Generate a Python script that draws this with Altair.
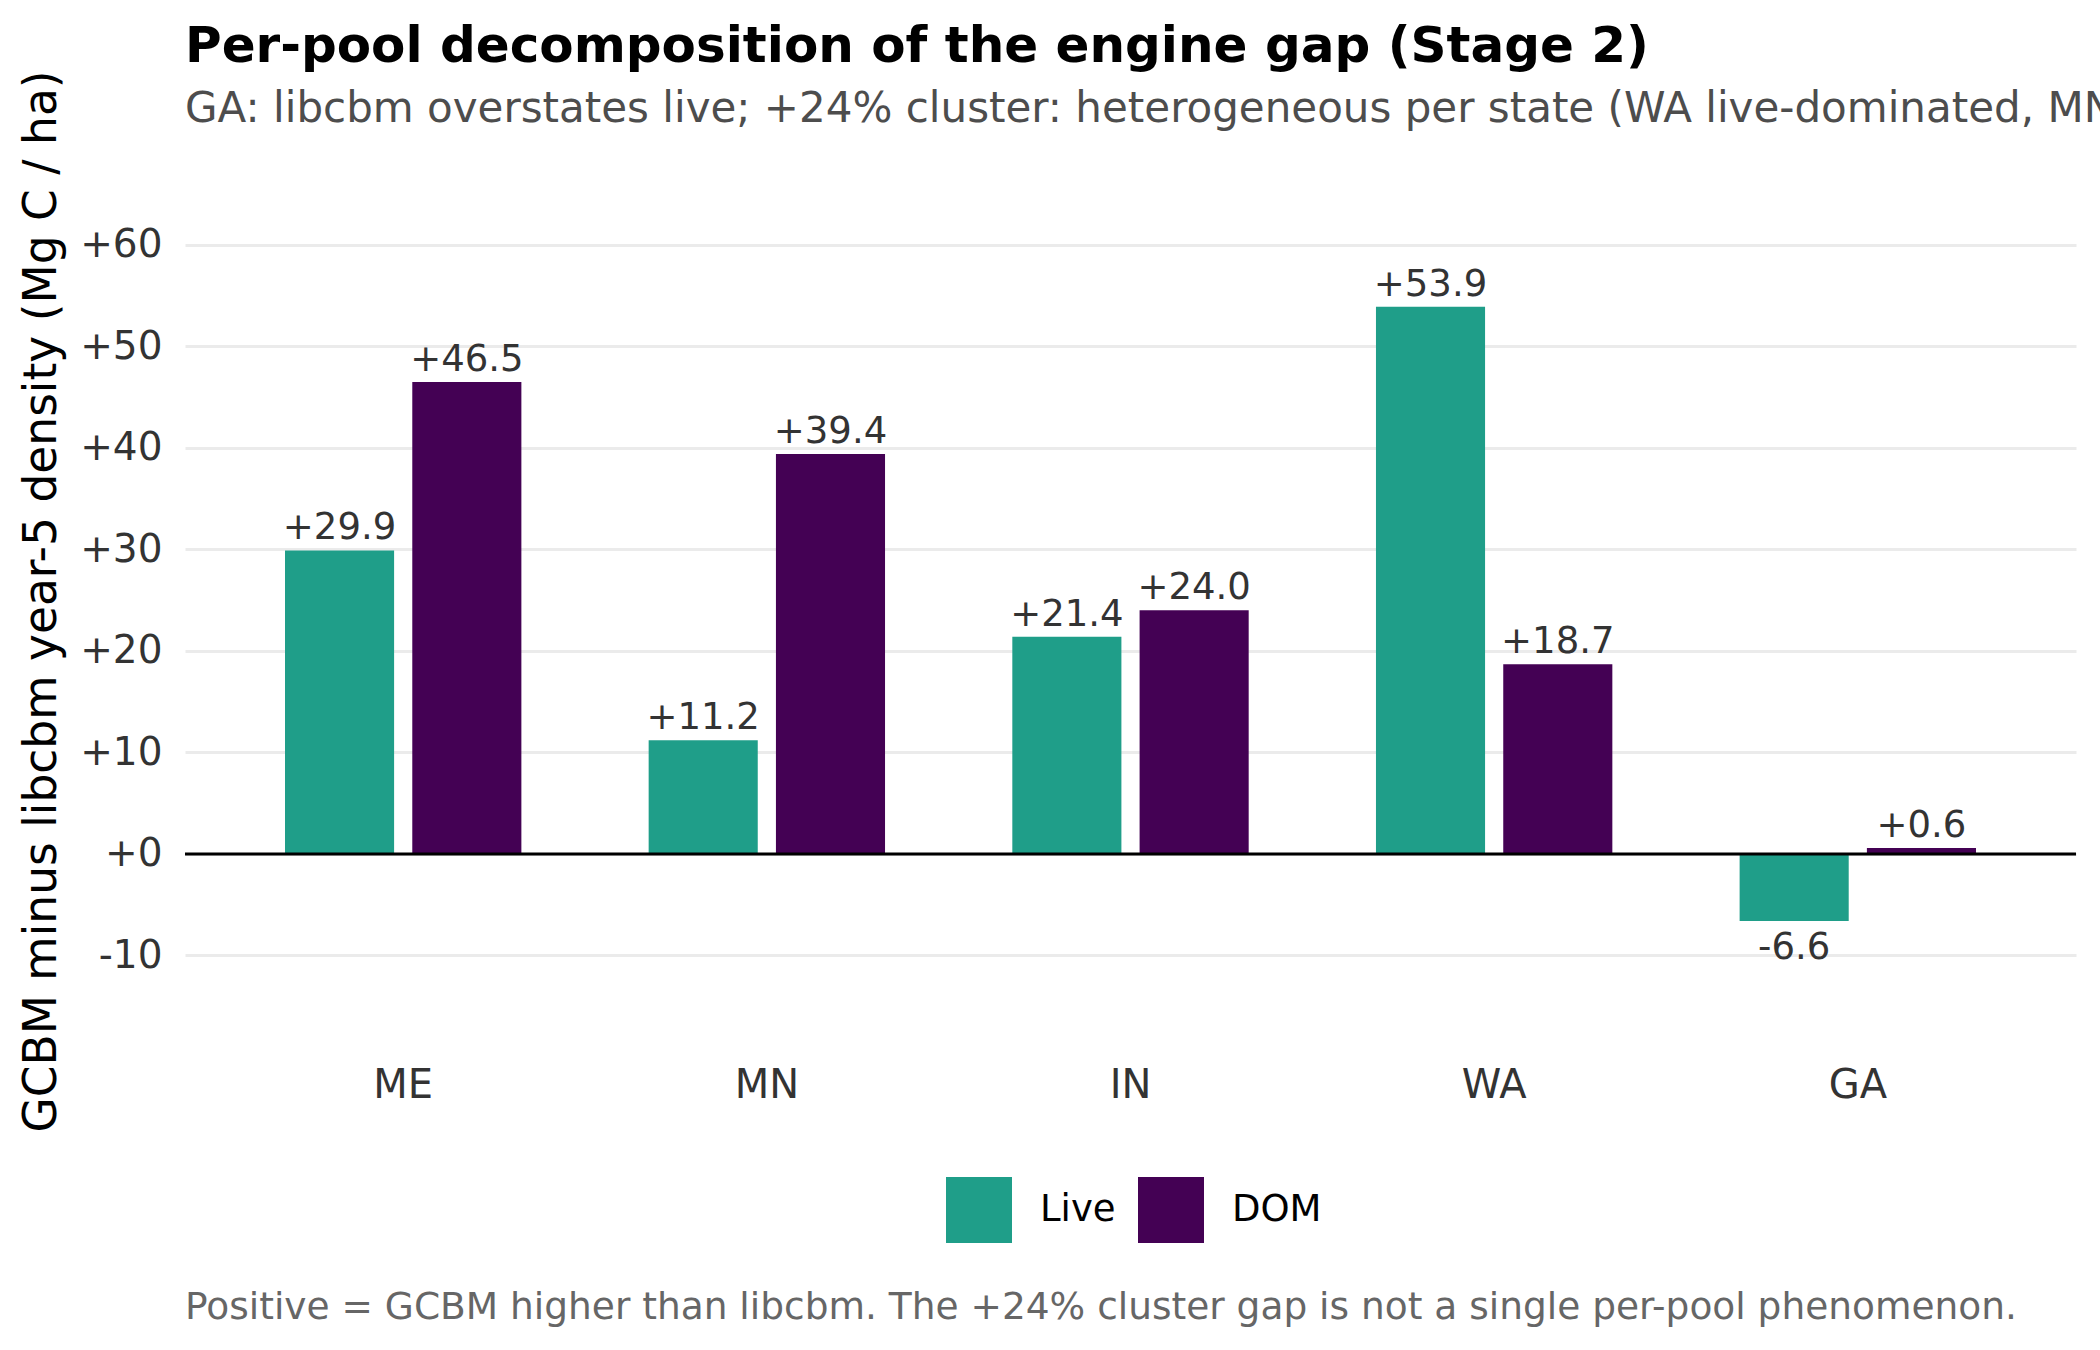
import altair as alt
import pandas as pd

# ---- data ----
states = ["ME", "MN", "IN", "WA", "GA"]
pools = ["Live", "DOM"]
live_vals = [29.9, 11.2, 21.4, 53.9, -6.6]
dom_vals = [46.5, 39.4, 24.0, 18.7, 0.6]
pool_colors = ["#1F9E89", "#440154"]
y_ticks = [-10, 0, 10, 20, 30, 40, 50, 60]

title_text = "Per-pool decomposition of the engine gap (Stage 2)"
subtitle_text = ("GA: libcbm overstates live; +24% cluster: heterogeneous per state "
                 "(WA live-dominated, MN DOM-dominated)")
caption_text = ("Positive = GCBM higher than libcbm. The +24% cluster gap is not a "
                "single per-pool phenomenon.")
y_title = "GCBM minus libcbm year-5 density (Mg C / ha)"

rows = []
for s, lv, dv in zip(states, live_vals, dom_vals):
    rows.append({"state": s, "pool": "Live", "value": lv})
    rows.append({"state": s, "pool": "DOM", "value": dv})
df = pd.DataFrame(rows)
df["label"] = df["value"].map(lambda v: f"{v:+.1f}")

FONT = "DejaVu Sans"
W, H = 1891, 873

x_enc = alt.X(
    "state:N", sort=states,
    scale=alt.Scale(paddingInner=0, paddingOuter=0.1),
    axis=alt.Axis(title=None, labelAngle=0, ticks=False, domain=False, grid=False,
                  labelPadding=8, labelFontSize=40, labelColor="#333333",
                  labelFont=FONT),
)
xoff_enc = alt.XOffset("pool:N", sort=pools,
                       scale=alt.Scale(paddingInner=0.1429, paddingOuter=0.5))
y_enc = alt.Y(
    "value:Q",
    scale=alt.Scale(domain=[-20, 66], nice=False, zero=False),
    axis=alt.Axis(
        values=y_ticks,
        labelExpr="(datum.value >= 0 ? '+' : '') + datum.value",
        ticks=False, domain=False, grid=True, gridColor="#EBEBEB", gridWidth=3,
        labelFontSize=39, labelColor="#333333", labelFont=FONT, labelPadding=23,
        title=y_title, titleFontSize=45.5, titleFont=FONT, titleFontWeight="normal",
        titleColor="black", titleAngle=-90, titleX=-130, titleY=417,
        titleBaseline="alphabetic", titleAlign="center",
    ),
)

base = alt.Chart(df)

bars = base.mark_bar().encode(
    x=x_enc, xOffset=xoff_enc, y=y_enc,
    color=alt.Color(
        "pool:N", sort=pools,
        scale=alt.Scale(domain=pools, range=pool_colors),
        legend=alt.Legend(
            title=None, orient="none", legendX=761, legendY=993,
            direction="horizontal", symbolType="square", symbolSize=4356,
            symbolStrokeWidth=0, symbolOpacity=1, labelFontSize=37, labelFont=FONT,
            labelColor="black", labelOffset=28, columnPadding=22,
        ),
    ),
)

zero_rule = alt.Chart(pd.DataFrame({"value": [0]})).mark_rule(
    color="black", strokeWidth=3
).encode(y=alt.Y("value:Q"))

pos_text = base.transform_filter("datum.value >= 0").mark_text(
    baseline="alphabetic", dy=-11, fontSize=37, font=FONT, color="#333333"
).encode(x=x_enc, xOffset=xoff_enc, y=alt.Y("value:Q"), text="label:N")

neg_text = base.transform_filter("datum.value < 0").mark_text(
    baseline="top", dy=9, fontSize=37, font=FONT, color="#333333"
).encode(x=x_enc, xOffset=xoff_enc, y=alt.Y("value:Q"), text="label:N")

caption = alt.Chart(pd.DataFrame({"t": [caption_text]})).mark_text(
    align="left", baseline="alphabetic", fontSize=37.5, font=FONT, color="#666666"
).encode(x=alt.value(0), y=alt.value(1135), text="t:N")

chart = alt.layer(bars, zero_rule, pos_text, neg_text, caption).properties(
    width=W, height=H,
    autosize=alt.AutoSizeParams(type="none"),
    padding={"left": 185, "top": 184, "right": 24, "bottom": 293},
    title=alt.TitleParams(
        text=title_text, subtitle=subtitle_text, anchor="start", frame="group",
        font=FONT, fontSize=50, fontWeight="bold", color="black",
        subtitleFont=FONT, subtitleFontSize=42, subtitleColor="#4D4D4D",
        subtitlePadding=17, offset=-60,
    ),
).configure(background="white", view=alt.ViewConfig(stroke=None))

chart.save("out.html", embed_options={"renderer": "svg", "actions": False})
